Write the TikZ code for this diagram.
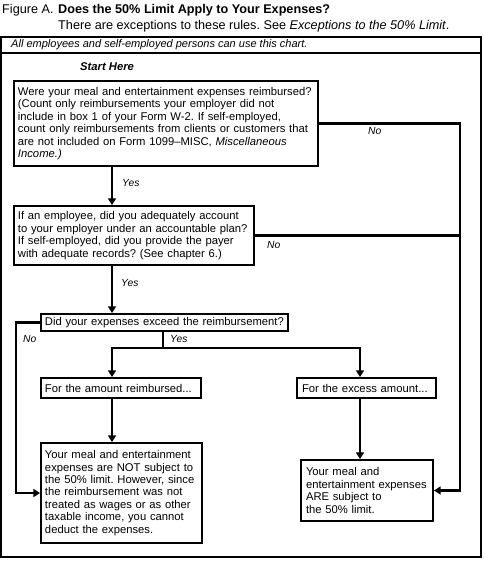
\documentclass[tikz,border=0pt]{standalone}
\usepackage{fontspec}
\setmainfont{Liberation Sans}
\usetikzlibrary{arrows.meta}
\frenchspacing

\newcommand{\boxfont}{\fontsize{9.6}{10.6}\selectfont\hyphenpenalty=10000\relax}

\tikzset{
	qbox/.style={draw, line width=1.7pt, anchor=north west, align=left, inner xsep=0.12cm, inner ysep=0.05cm, font=\boxfont},
	flow/.style={line width=1.8pt},
	arr/.style={flow, -{Triangle[length=0.2cm, width=0.24cm]}},
	answer/.style={anchor=west, inner sep=0pt, font=\fontsize{8.8}{10}\selectfont\itshape},
	head/.style={anchor=west, inner sep=0pt, font=\fontsize{10.8}{13}\selectfont},
}

\begin{document}
\begin{tikzpicture}[x=0.03cm, y=-0.03cm]
	\useasboundingbox (0,0) rectangle (483,572);

	% heading
	\node[head] (fig) at (2,10) {Figure A.};
	\node[head, font=\fontsize{10.8}{13}\selectfont\bfseries] (title) at (58,10) {Does the 50\% Limit Apply to Your Expenses?};
	\node[head] (exc) at (58,26) {There are exceptions to these rules. See \textit{Exceptions to the 50\% Limit}.};

	% frame
	\draw[line width=1.8pt] (1,37) rectangle (481,557);
	\draw[line width=1.3pt] (1,53) -- (481,53);
	\node[anchor=west, inner sep=0pt, font=\fontsize{9.4}{11}\selectfont\itshape] (who) at (11,45) {All employees and self-employed persons can use this chart.};
	\node[anchor=west, inner sep=0pt, font=\fontsize{9.6}{11}\selectfont\bfseries\itshape] (start) at (80,67) {Start Here};

	% questions
	\node[qbox, text width=8.88cm, minimum height=2.55cm] (q1) at (13,80) {Were your meal and entertainment expenses reimbursed?\\(Count only reimbursements your employer did not\\include in box 1 of your Form W-2. If self-employed,\\count only reimbursements from clients or customers that\\are not included on Form 1099–MISC, \textit{Miscellaneous}\\\textit{Income.)}};
	\node[qbox, text width=6.96cm, minimum height=1.77cm] (q2) at (13,205) {If an employee, did you adequately account\\to your employer under an accountable plan?\\If self-employed, did you provide the payer\\with adequate records? (See chapter 6.)};
	\node[qbox, text width=7.17cm, minimum height=0.51cm, inner ysep=0pt] (q3) at (40,313) {Did your expenses exceed the reimbursement?};

	% answers
	\node[qbox, text width=4.56cm, minimum height=0.6cm] (reimb) at (40,377) {For the amount reimbursed...};
	\node[qbox, text width=3.87cm, inner xsep=0.15cm, minimum height=0.6cm] (excess) at (296,377) {For the excess amount...};
	\node[qbox, text width=4.59cm, minimum height=3.0cm] (notsub) at (40,442) {Your meal and entertainment\\expenses are NOT subject to\\the 50\% limit. However, since\\the reimbursement was not\\treated as wages or as other\\taxable income, you cannot\\deduct the expenses.};
	\node[qbox, text width=3.66cm, inner xsep=0.15cm, minimum height=1.83cm] (subj) at (300,459) {Your meal and\\entertainment expenses\\ARE subject to\\the 50\% limit.};

	% connectors
	\coordinate (spine) at (112,0);
	\coordinate (rspine) at (360,0);
	\coordinate (rail) at (460,0);
	\coordinate (lrail) at (16,0);
	\coordinate (fork) at (163,348);

	\draw[arr] (q1.south -| spine) -- (q2.north -| spine);
	\draw[arr] (q2.south -| spine) -- (q3.north -| spine);
	\draw[arr] (q1.east) -- (q1.east -| rail) |- (subj.east);
	\draw[flow] (q2.east) -- (q2.east -| rail);
	\draw[arr] (q3.west) -- (q3.west -| lrail) |- (notsub.west);
	\draw[flow] (q3.south -| fork) -- (fork);
	\draw[arr] (fork) -| (reimb.north -| spine);
	\draw[arr] (fork) -| (excess.north -| rspine);
	\draw[arr] (reimb.south -| spine) -- (notsub.north -| spine);
	\draw[arr] (excess.south -| rspine) -- (subj.north -| rspine);

	% yes / no
	\node[answer] (yes1) at (122,183) {Yes};
	\node[answer] (no1) at (368,131) {No};
	\node[answer] (yes2) at (121,283) {Yes};
	\node[answer] (no2) at (267,245) {No};
	\node[answer] (no3) at (23,339) {No};
	\node[answer] (yes3) at (170,339) {Yes};

\end{tikzpicture}
\end{document}
